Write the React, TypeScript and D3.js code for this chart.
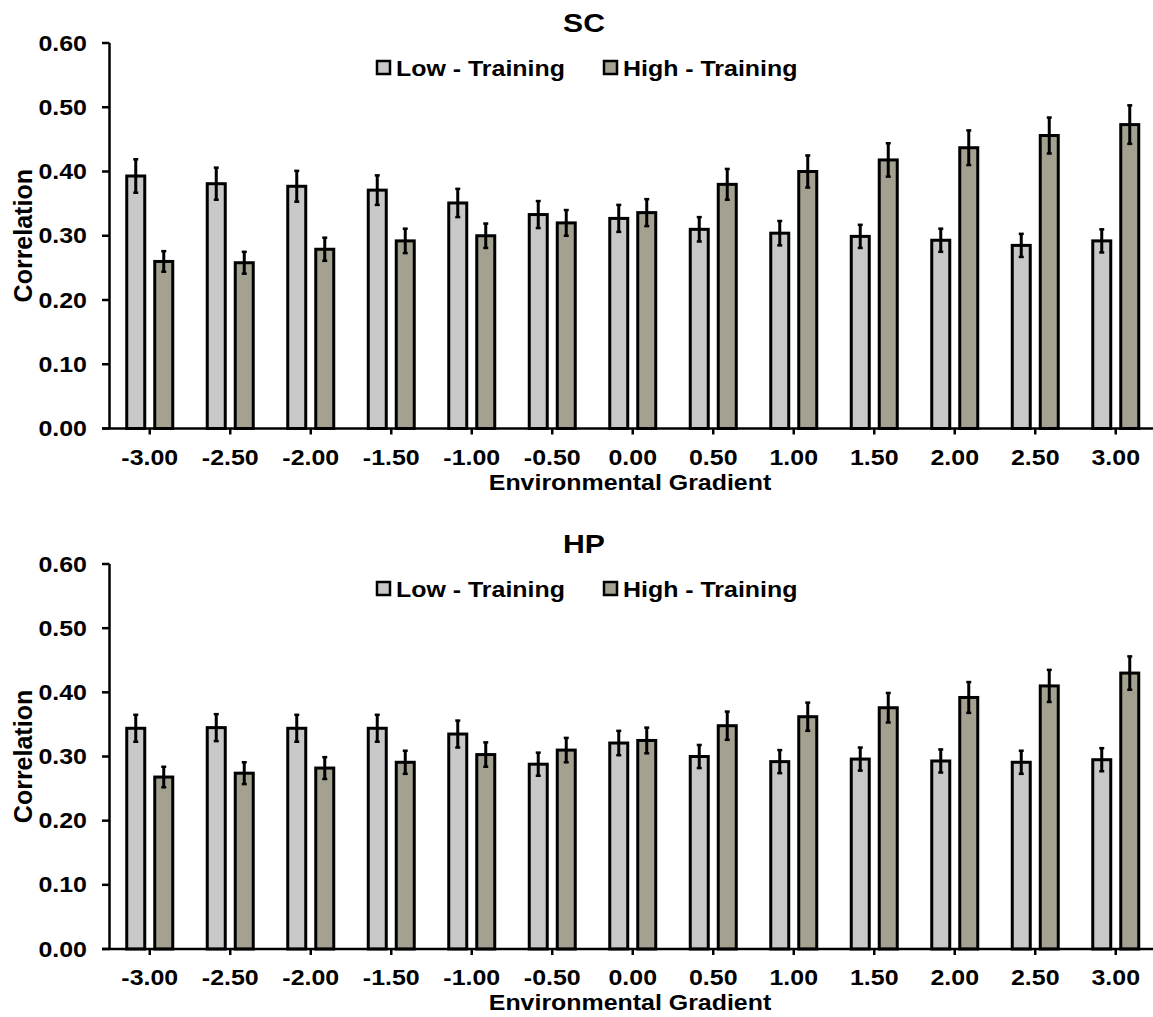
import React, { useEffect, useRef } from 'react';
import * as d3 from 'd3';

const categories = ['-3.00', '-2.50', '-2.00', '-1.50', '-1.00', '-0.50', '0.00', '0.50', '1.00', '1.50', '2.00', '2.50', '3.00'];
const seriesNames = ['Low - Training', 'High - Training'];
const yTicks = [0, 0.1, 0.2, 0.3, 0.4, 0.5, 0.6];

// SC panel
const scLow = [0.393, 0.381, 0.377, 0.371, 0.351, 0.333, 0.327, 0.310, 0.304, 0.299, 0.293, 0.285, 0.292];
const scHigh = [0.260, 0.258, 0.279, 0.292, 0.300, 0.320, 0.336, 0.380, 0.400, 0.418, 0.437, 0.456, 0.473];
const scLowErr = [0.026, 0.025, 0.024, 0.023, 0.022, 0.021, 0.021, 0.019, 0.019, 0.018, 0.018, 0.018, 0.018];
const scHighErr = [0.016, 0.017, 0.018, 0.019, 0.019, 0.020, 0.021, 0.024, 0.025, 0.026, 0.027, 0.028, 0.030];

// HP panel
const hpLow = [0.344, 0.345, 0.344, 0.344, 0.335, 0.288, 0.321, 0.300, 0.292, 0.296, 0.293, 0.291, 0.295];
const hpHigh = [0.268, 0.274, 0.282, 0.291, 0.303, 0.310, 0.325, 0.348, 0.362, 0.376, 0.392, 0.410, 0.430];
const hpLowErr = [0.021, 0.021, 0.021, 0.021, 0.021, 0.018, 0.019, 0.018, 0.018, 0.018, 0.018, 0.018, 0.018];
const hpHighErr = [0.016, 0.017, 0.017, 0.018, 0.019, 0.019, 0.020, 0.022, 0.022, 0.023, 0.024, 0.025, 0.026];

const colors = ['#c8c8c8', '#a5a191'];
const font = '"Liberation Sans", Arial, sans-serif';
const SX = 1.16; // horizontal text in the source is stretched

export default function App() {
    const ref = useRef<SVGSVGElement>(null);

    useEffect(() => {
        const svg = d3.select(ref.current);
        svg.selectAll('*').remove();

        const panels = [
            { title: 'SC', low: scLow, high: scHigh, lowErr: scLowErr, highErr: scHighErr, top: 43, bottom: 428.5 },
            { title: 'HP', low: hpLow, high: hpHigh, lowErr: hpLowErr, highErr: hpHighErr, top: 564, bottom: 949 },
        ];

        const x = d3.scaleBand().domain(categories).range([109.5, 1156]).padding(0);
        const inner = d3.scaleBand().domain(seriesNames).range([-23, 23]).paddingInner(10 / 28);

        const stretched = (sel, px, py) => sel.attr('transform', `translate(${px},${py}) scale(${SX},1)`);

        panels.forEach(p => {
            const y = d3.scaleLinear().domain([0, 0.6]).range([p.bottom, p.top]);
            const g = svg.append('g');
            const off = p.top - 43;

            // title
            stretched(g.append('text'), 584, 32 + off)
                .attr('text-anchor', 'middle')
                .attr('font-family', font).attr('font-weight', 'bold').attr('font-size', 26)
                .text(p.title);

            // legend
            const legX = [377, 604];
            seriesNames.forEach((s, i) => {
                g.append('rect')
                    .attr('x', legX[i]).attr('y', 61 + off)
                    .attr('width', 13).attr('height', 13)
                    .attr('fill', colors[i]).attr('stroke', '#000').attr('stroke-width', 2.5);
                stretched(g.append('text'), legX[i] + 19, 75.5 + off)
                    .attr('font-family', font).attr('font-weight', 'bold').attr('font-size', 21.5)
                    .text(s);
            });

            // bars
            const data = categories.map((c, i) => ({
                cat: c,
                vals: [
                    { s: seriesNames[0], v: p.low[i], e: p.lowErr[i] },
                    { s: seriesNames[1], v: p.high[i], e: p.highErr[i] },
                ],
            }));

            const groups = g.append('g').selectAll('g')
                .data(data).enter().append('g')
                .attr('transform', d => `translate(${x(d.cat) + x.bandwidth() / 2},0)`);

            groups.selectAll('rect')
                .data(d => d.vals).enter().append('rect')
                .attr('x', d => inner(d.s))
                .attr('y', d => y(d.v))
                .attr('width', inner.bandwidth())
                .attr('height', d => y(0) - y(d.v))
                .attr('fill', (d, i) => colors[i])
                .attr('stroke', '#000').attr('stroke-width', 3);

            // error bars
            const eb = groups.selectAll('g.err')
                .data(d => d.vals).enter().append('g')
                .attr('class', 'err')
                .attr('transform', d => `translate(${inner(d.s) + inner.bandwidth() / 2},0)`);
            eb.append('line')
                .attr('x1', 0).attr('x2', 0)
                .attr('y1', d => y(d.v + d.e)).attr('y2', d => y(d.v - d.e))
                .attr('stroke', '#000').attr('stroke-width', 3);
            eb.append('line')
                .attr('x1', -2.5).attr('x2', 2.5)
                .attr('y1', d => y(d.v + d.e)).attr('y2', d => y(d.v + d.e))
                .attr('stroke', '#000').attr('stroke-width', 2.5);
            eb.append('line')
                .attr('x1', -2.5).attr('x2', 2.5)
                .attr('y1', d => y(d.v - d.e)).attr('y2', d => y(d.v - d.e))
                .attr('stroke', '#000').attr('stroke-width', 2.5);

            // y axis
            g.append('line')
                .attr('x1', 109.5).attr('x2', 109.5)
                .attr('y1', y(0.6)).attr('y2', y(0))
                .attr('stroke', '#000').attr('stroke-width', 2.5);
            yTicks.forEach(t => {
                g.append('line')
                    .attr('x1', 102).attr('x2', 109.5)
                    .attr('y1', y(t)).attr('y2', y(t))
                    .attr('stroke', '#000').attr('stroke-width', 2.5);
                stretched(g.append('text'), 87, y(t) + 7.5)
                    .attr('text-anchor', 'end')
                    .attr('font-family', font).attr('font-weight', 'bold').attr('font-size', 21.5)
                    .text(d3.format('.2f')(t));
            });

            // x axis
            g.append('line')
                .attr('x1', 102).attr('x2', 1153)
                .attr('y1', y(0)).attr('y2', y(0))
                .attr('stroke', '#000').attr('stroke-width', 2.5);
            categories.forEach(c => {
                const cx = x(c) + x.bandwidth() / 2;
                g.append('line')
                    .attr('x1', cx).attr('x2', cx)
                    .attr('y1', y(0)).attr('y2', y(0) + 6)
                    .attr('stroke', '#000').attr('stroke-width', 2.5);
                stretched(g.append('text'), cx, y(0) + 36)
                    .attr('text-anchor', 'middle')
                    .attr('font-family', font).attr('font-weight', 'bold').attr('font-size', 21.5)
                    .text(c);
            });

            stretched(g.append('text'), 630, y(0) + 61)
                .attr('text-anchor', 'middle')
                .attr('font-family', font).attr('font-weight', 'bold').attr('font-size', 21.5)
                .text('Environmental Gradient');

            g.append('text')
                .attr('transform', `translate(32,${(p.top + p.bottom) / 2}) rotate(-90)`)
                .attr('text-anchor', 'middle')
                .attr('font-family', font).attr('font-weight', 'bold').attr('font-size', 25)
                .text('Correlation');
        });
    }, []);

    return (
        <svg ref={ref} width={1153} height={1017}
            style={{ position: 'absolute', left: 0, top: 0, background: '#fff' }} />
    );
}
